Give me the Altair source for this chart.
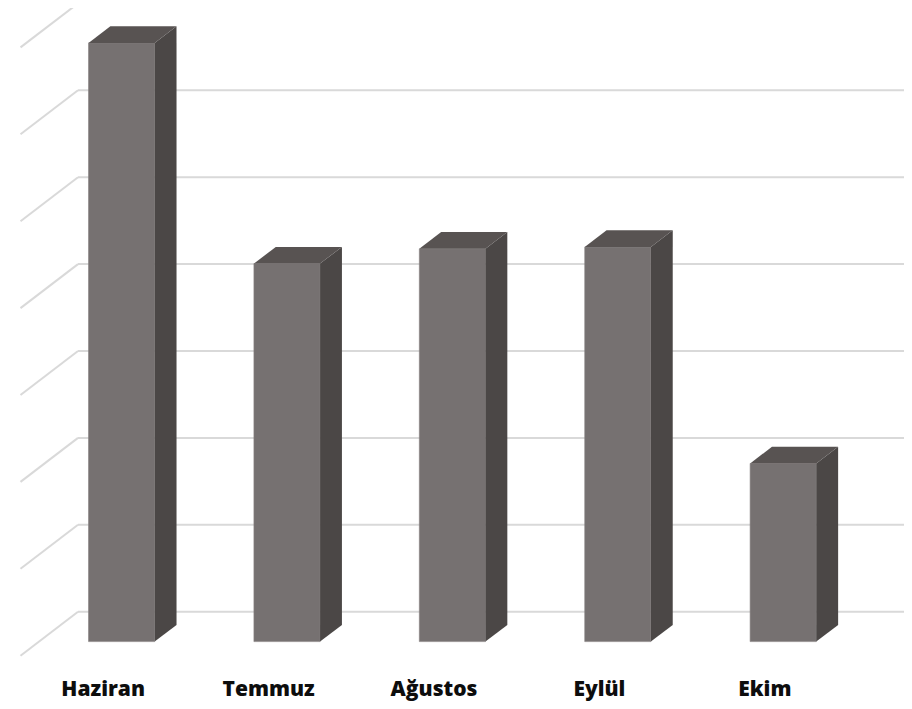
import altair as alt
import pandas as pd

# ---- data ----
months = ["Haziran", "Temmuz", "Ağustos", "Eylül", "Ekim"]
values = [6.89, 4.35, 4.52, 4.54, 2.05]
grid_levels = [0, 1, 2, 3, 4, 5, 6, 7]

# ---- layout (3D oblique projection) ----
W, H = 896, 693
SLOT_PX = 165.4          # px per category slot on back wall
UNIT_PX = 86.9           # px per value unit
WALL_X0 = 70.0           # chart px of wall start
WALL_Y0 = 603.7          # chart px of value 0 on the wall
DEPTH_X = -57.5 / SLOT_PX   # full-depth offset in slot units
DEPTH_Y = -44.0 / UNIT_PX   # full-depth offset in value units
BAR_HALF = 0.2
F_FRONT, F_BACK = 0.68, 0.30
LABEL_BASE_PX = 687.5

x_dom = [-WALL_X0 / SLOT_PX, (W - WALL_X0) / SLOT_PX]
y_dom = [(WALL_Y0 - H) / UNIT_PX, WALL_Y0 / UNIT_PX]
xs = alt.Scale(domain=x_dom, nice=False, zero=False)
ys = alt.Scale(domain=y_dom, nice=False, zero=False)

def ox(f):
    return DEPTH_X * f

def oy(f):
    return DEPTH_Y * f

front_rows, side_rows, top_rows, label_rows = [], [], [], []
for i, (m, v) in enumerate(zip(months, values)):
    c = i + 0.5
    xl1, xr1 = c - BAR_HALF + ox(F_FRONT), c + BAR_HALF + ox(F_FRONT)
    xl0, xr0 = c - BAR_HALF + ox(F_BACK), c + BAR_HALF + ox(F_BACK)
    d1, d0 = oy(F_FRONT), oy(F_BACK)
    front_rows.append(dict(m=m, x=xl1, x2=xr1, y=d1, y2=v + d1))
    side_rows += [dict(m=m, x=xr1, y=d1, y2=v + d1), dict(m=m, x=xr0, y=d0, y2=v + d0)]
    top_rows += [
        dict(m=m, x=xl1, y=v + d1, y2=v + d1),
        dict(m=m, x=xl0, y=v + d1, y2=v + d0),
        dict(m=m, x=xr1, y=v + d1, y2=v + d0),
        dict(m=m, x=xr0, y=v + d0, y2=v + d0),
    ]
    label_rows.append(dict(m=m, x=c + ox(1.0), y=(WALL_Y0 - LABEL_BASE_PX) / UNIT_PX))

grid_df = pd.DataFrame(dict(v=grid_levels))
grid_df["x0"] = 0.0
grid_df["x1"] = 5.0
grid_df["dx"] = ox(1.0)
grid_df["dv"] = grid_df["v"] + oy(1.0)

GRID = "#d9d9d9"
hgrid = alt.Chart(grid_df).mark_rule(color=GRID, strokeWidth=2, clip=False).encode(
    x=alt.X("x0:Q", scale=xs, axis=None), x2="x1:Q",
    y=alt.Y("v:Q", scale=ys, axis=None))
dgrid = alt.Chart(grid_df).mark_rule(color=GRID, strokeWidth=2, clip=False).encode(
    x=alt.X("x0:Q", scale=xs, axis=None), x2="dx:Q",
    y=alt.Y("v:Q", scale=ys, axis=None), y2="dv:Q")

front = alt.Chart(pd.DataFrame(front_rows)).mark_rect(color="#767171", stroke="#878282", strokeWidth=0.6).encode(
    x=alt.X("x:Q", scale=xs, axis=None), x2="x2:Q",
    y=alt.Y("y:Q", scale=ys, axis=None), y2="y2:Q")
side = alt.Chart(pd.DataFrame(side_rows)).mark_area(color="#4b4746", orient="vertical", interpolate="linear").encode(
    x=alt.X("x:Q", scale=xs, axis=None),
    y=alt.Y("y:Q", scale=ys, axis=None), y2="y2:Q", detail="m:N")
top = alt.Chart(pd.DataFrame(top_rows)).mark_area(color="#585352", orient="vertical", interpolate="linear").encode(
    x=alt.X("x:Q", scale=xs, axis=None),
    y=alt.Y("y:Q", scale=ys, axis=None), y2="y2:Q", detail="m:N")
labels = alt.Chart(pd.DataFrame(label_rows)).mark_text(
    font="Open Sans", fontWeight=800, fontSize=21, color="#0d0d0d",
    align="center", baseline="alphabetic").encode(
    x=alt.X("x:Q", scale=xs, axis=None),
    y=alt.Y("y:Q", scale=ys, axis=None), text="m:N")

chart = alt.layer(hgrid, dgrid, front, side, top, labels).properties(
    width=W, height=H, padding=0, autosize=alt.AutoSizeParams(type="none")
).configure_view(stroke=None)

chart.save("out.html", embed_options={"renderer": "svg", "actions": False})
